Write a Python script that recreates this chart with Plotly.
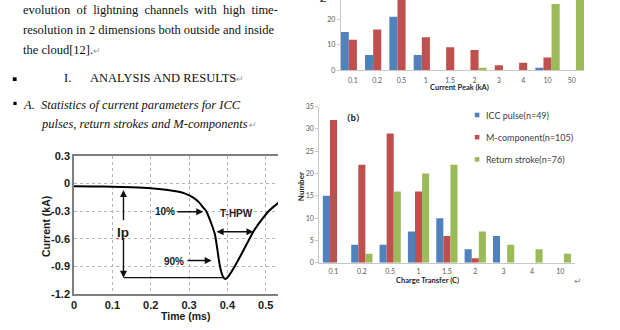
import plotly.graph_objects as go

W, H = 620, 330


def px(x):
    return x / W


def py(y):
    return 1 - y / H


# ---------------- data: current waveform (left figure) ----------------
time_ms = [0.0, 0.05, 0.10, 0.15, 0.20, 0.24, 0.27, 0.29, 0.31, 0.325, 0.335,
           0.345, 0.355, 0.362, 0.368, 0.374, 0.379, 0.385, 0.39, 0.395, 0.40,
           0.41, 0.42, 0.44, 0.468, 0.49, 0.51, 0.533]
current_ka = [-0.030, -0.032, -0.036, -0.042, -0.052, -0.068, -0.088, -0.11,
              -0.15, -0.20, -0.25, -0.30, -0.40, -0.48, -0.56, -0.72, -0.86,
              -0.97, -1.02, -1.035, -1.02, -0.96, -0.89, -0.74, -0.52, -0.39,
              -0.29, -0.21]
wave_xticks = [0, 0.1, 0.2, 0.3, 0.4, 0.5]
wave_xlabels = ["0", "0.1", "0.2", "0.3", "0.4", "0.5"]
wave_yticks = [0.3, 0, -0.3, -0.6, -0.9, -1.2]
wave_ylabels = ["0.3", "0", "-0.3", "-0.6", "-0.9", "-1.2"]

# ---------------- data: (a) current peak ----------------
peak_categories = ["0.1", "0.2", "0.5", "1", "1.5", "2", "3", "4", "10", "50"]
peak_icc = [15, 6, 21, 6, 0, 0, 0, 0, 1, 0]
peak_mcomp = [12, 16, 37, 13, 9, 8, 2, 3, 5, 0]
peak_return = [0, 0, 0, 0, 0, 1, 0, 0, 26, 49]

# ---------------- data: (b) charge transfer ----------------
charge_categories = ["0.1", "0.2", "0.5", "1", "1.5", "2", "3", "4", "10"]
charge_icc = [15, 4, 4, 7, 10, 3, 6, 0, 0]
charge_mcomp = [32, 22, 29, 16, 6, 1, 0, 0, 0]
charge_return = [0, 2, 16, 20, 22, 7, 4, 3, 2]

series_names = ["ICC pulse(n=49)", "M-component(n=105)", "Return stroke(n=76)"]
series_colors = ["#4F81BD", "#C0504D", "#9BBB59"]

fig = go.Figure()

# waveform
fig.add_trace(go.Scatter(x=time_ms, y=current_ka, mode="lines",
                         line=dict(color="black", width=2, shape="spline", smoothing=0.6),
                         xaxis="x", yaxis="y", hoverinfo="skip"))

# (a) bars
wa = 1 / 3
for vals, col, off in zip([peak_icc, peak_mcomp, peak_return], series_colors,
                          [-0.5, -1 / 6, 1 / 6]):
    fig.add_trace(go.Bar(x=peak_categories, y=vals, marker=dict(color=col, line=dict(width=0)),
                         width=wa, offset=off, xaxis="x2", yaxis="y2"))

# (b) bars
wb = 0.25
for vals, col, off, name in zip([charge_icc, charge_mcomp, charge_return], series_colors,
                                [-0.375, -0.125, 0.125], series_names):
    fig.add_trace(go.Bar(x=charge_categories, y=vals, name=name,
                         marker=dict(color=col, line=dict(width=0)),
                         width=wb, offset=off, xaxis="x3", yaxis="y3"))

wave_font = dict(family="Liberation Sans", size=11, color="#1a1a1a", weight="bold")
bar_tick_font = dict(family="Lato", size=7, color="#595959")

layout = dict(
    width=W, height=H, margin=dict(l=0, r=0, t=0, b=0, autoexpand=False),
    paper_bgcolor="white", plot_bgcolor="white", showlegend=False,
    barmode="overlay",
    xaxis=dict(domain=[px(74), px(278)], range=[0, 0.532], tickvals=wave_xticks,
               ticktext=wave_xlabels, showgrid=True, gridcolor="#b5b5b5", griddash="dot",
               gridwidth=1, showline=True, linecolor="#7f7f7f", linewidth=1.5, mirror=True,
               zeroline=False, ticks="", tickfont=wave_font, ticklabelstandoff=0,
               automargin=False, anchor="y"),
    yaxis=dict(domain=[py(294.3), py(155.7)], range=[-1.2, 0.3], tickvals=wave_yticks,
               ticktext=wave_ylabels, showgrid=True, gridcolor="#b5b5b5", griddash="dot",
               gridwidth=1, showline=True, linecolor="#7f7f7f", linewidth=1.5, mirror=False,
               zeroline=False, ticks="", tickfont=wave_font, ticklabelstandoff=0,
               automargin=False, anchor="x"),
    xaxis2=dict(domain=[px(340.7), px(584)], range=[-0.5, 9.5], type="category",
                showline=True, linecolor="#c8c8c8", linewidth=1, showgrid=False,
                ticks="", tickfont=bar_tick_font, ticklabelstandoff=3,
                automargin=False, anchor="y2"),
    yaxis2=dict(domain=[py(70.3), 1], range=[0, 70.3 / 2.55], dtick=10,
                showline=True, linecolor="#c8c8c8", linewidth=1, showgrid=False,
                ticks="outside", ticklen=3, tickcolor="#c8c8c8", zeroline=False,
                tickfont=bar_tick_font, automargin=False, anchor="x2"),
    xaxis3=dict(domain=[px(319.3), px(574.5)], range=[-0.5, 8.5], type="category",
                showline=True, linecolor="#c8c8c8", linewidth=1, showgrid=False,
                ticks="", tickfont=bar_tick_font, ticklabelstandoff=2,
                automargin=False, anchor="y3"),
    yaxis3=dict(domain=[py(262.7), py(106.7)], range=[0, 35], dtick=5,
                showline=True, linecolor="#c8c8c8", linewidth=1, showgrid=False,
                ticks="outside", ticklen=3, tickcolor="#c8c8c8", zeroline=False,
                tickfont=bar_tick_font, automargin=False, anchor="x3"),
)
fig.update_layout(**layout)

ann = []
shapes = []


def txt(x, y, s, size=12, family="Liberation Serif", color="#111111", xanchor="left",
        weight="normal", style="normal", angle=0):
    ann.append(dict(x=px(x), y=py(y), xref="paper", yref="paper", text=s, showarrow=False,
                    xanchor=xanchor, yanchor="middle", textangle=angle,
                    font=dict(size=size, family=family, color=color, weight=weight,
                              style=style)))


ret = "<span style='color:#9a9a9a;font-size:9px'>↵</span>"
# document text
txt(21, 10, "evolution  of  lightning  channels  with  high  time-", size=12.5)
txt(21, 30, "resolution in 2 dimensions both outside and inside", size=12.5)
txt(21, 50, "the cloud[12]." + ret, size=12.5)
txt(62, 78, "I.", size=12.5)
txt(88, 78, "ANALYSIS AND RESULTS" + ret, size=12.5)
txt(20.5, 105, "A.", size=12.5, style="italic")
txt(38.5, 105, "Statistics of current parameters for ICC", size=12.5, style="italic")
txt(38.5, 124.5, "pulses, return strokes and M-components" + ret, size=12.5, style="italic")
shapes.append(dict(type="rect", xref="paper", yref="paper", x0=px(12.8), x1=px(16.6),
                   y0=py(81), y1=py(77.3), fillcolor="black", line=dict(width=0)))
shapes.append(dict(type="rect", xref="paper", yref="paper", x0=px(13.4), x1=px(16.6),
                   y0=py(105), y1=py(101.8), fillcolor="black", line=dict(width=0)))

# waveform titles
txt(185, 315.5, "Time (ms)", size=10.5, family="Liberation Sans", color="#1a1a1a",
    xanchor="center", weight="bold")
txt(45.5, 226.5, "Current (kA)", size=10.5, family="Liberation Sans", color="#1a1a1a",
    xanchor="center", weight="bold", angle=-90)


# waveform annotations
def wlabel(t, v, s, size=10):
    ann.append(dict(x=t, y=v, xref="x", yref="y", text=s, showarrow=False,
                    font=dict(size=size, family="Liberation Sans", color="#1a1a1a",
                              weight="bold")))


def warrow(t0, v0, t1, v1, side="end"):
    ann.append(dict(x=t1, y=v1, ax=t0, ay=v0, xref="x", yref="y", axref="x", ayref="y",
                    text="", showarrow=True, arrowhead=2, arrowsize=1, arrowwidth=1.4,
                    arrowcolor="#111111", arrowside=side, standoff=0, startstandoff=0))


wlabel(0.127, -0.53, "Ip", size=13.5)
warrow(0.129, -0.415, 0.129, -0.072)
warrow(0.129, -0.59, 0.129, -1.02)
shapes.append(dict(type="line", xref="x", yref="y", x0=0.129, x1=0.39, y0=-1.02, y1=-1.02,
                   line=dict(color="#111111", width=1.4)))
shapes.append(dict(type="line", xref="x", yref="y", x0=0.110, x1=0.140, y0=-0.598, y1=-0.598,
                   line=dict(color="#d04040", width=1, dash="dot")))
wlabel(0.237, -0.307, "10%")
warrow(0.266, -0.307, 0.337, -0.307)
wlabel(0.423, -0.327, "T-HPW")
warrow(0.368, -0.523, 0.468, -0.523, side="end+start")
wlabel(0.262, -0.848, "90%")
warrow(0.292, -0.835, 0.359, -0.835)

# bar-chart titles
txt(459, 88, "Current Peak (kA)", size=7.5, family="Lato", color="#262626",
    xanchor="center", weight="bold")
txt(322.5, -12, "Number", size=8, family="Lato", color="#262626",
    xanchor="center", weight="bold", angle=-90)
txt(427.7, 280.5, "Charge Transfer (C)", size=7.5, family="Lato", color="#262626",
    xanchor="center", weight="bold")
txt(300.5, 186.7, "Number", size=8, family="Lato", color="#262626",
    xanchor="center", weight="bold", angle=-90)
txt(352.5, 117, "（b）", size=8.5, family="Noto Sans CJK SC", color="#262626",
    xanchor="center", weight="bold")
txt(578, 281, "↵", size=9, family="DejaVu Sans", color="#8a8a8a", xanchor="center")

# legend for (b)
for i, (name, col) in enumerate(zip(series_names, series_colors)):
    yc = 115 + 22.2 * i
    shapes.append(dict(type="rect", xref="paper", yref="paper", x0=px(474.8), x1=px(479.4),
                       y0=py(yc + 2.3), y1=py(yc - 2.3), fillcolor=col, line=dict(width=0)))
    txt(483.5, yc, name, size=9, family="Lato", color="#404040")

fig.update_layout(annotations=ann, shapes=shapes)
fig.write_html("out.html")
